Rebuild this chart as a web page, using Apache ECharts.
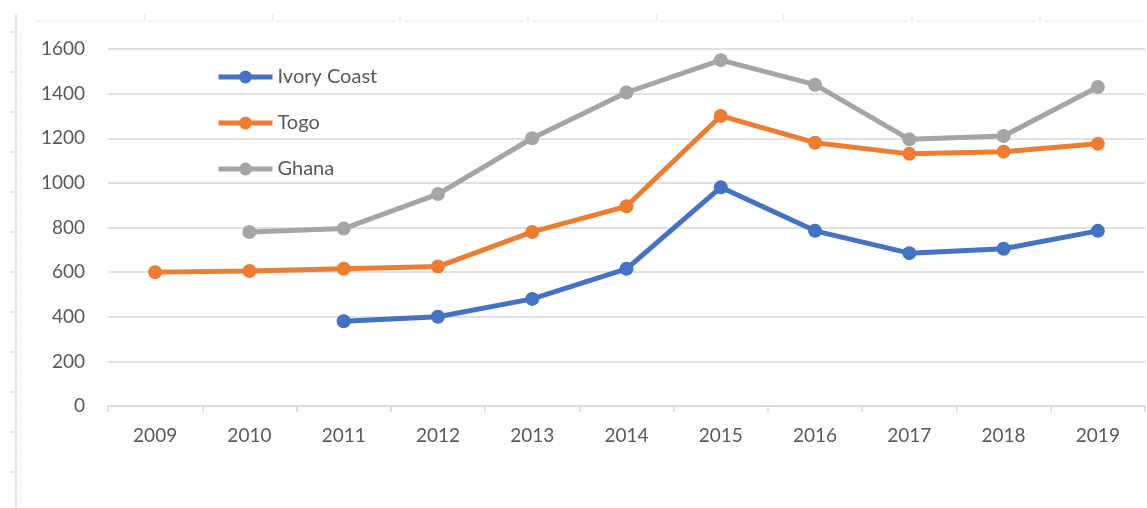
<!DOCTYPE html>
<html>
<head>
<meta charset="utf-8">
<script src="https://cdn.jsdelivr.net/npm/echarts@6/dist/echarts.min.js"></script>
<style>
  html, body { margin: 0; padding: 0; background: #fff; }
  #main { width: 1147px; height: 508px; }
</style>
</head>
<body>
<div id="main"></div>
<script>
var years = ['2009', '2010', '2011', '2012', '2013', '2014', '2015', '2016', '2017', '2018', '2019'];
var ivoryCoast = [null, null, 380, 400, 480, 615, 980, 785, 685, 705, 785];
var togo = [600, 605, 615, 625, 780, 895, 1300, 1180, 1130, 1140, 1175];
var ghana = [null, 780, 795, 950, 1200, 1405, 1550, 1440, 1195, 1210, 1430];

var myChart = echarts.init(document.getElementById('main'));

var labelFont = 'Lato, "Open Sans", sans-serif';
var textColor = '#595959';
var gridColor = '#d9d9d9';

// excel-ish frame bits round the chart area
var deco = [];
deco.push({
    type: 'line', shape: { x1: 16, y1: 14, x2: 16, y2: 508 },
    style: { stroke: '#e2e2e2', lineWidth: 1.5 }, silent: true
});
for (var ty = 32; ty < 508; ty += 40) {
    deco.push({
        type: 'line', shape: { x1: 10, y1: ty, x2: 17, y2: ty },
        style: { stroke: '#e2e2e2', lineWidth: 1.5 }, silent: true
    });
}
deco.push({
    type: 'line', shape: { x1: 21, y1: 32, x2: 21, y2: 508 },
    style: { stroke: '#ececec', lineWidth: 1, lineDash: [8, 3, 2, 3] }, silent: true
});
deco.push({
    type: 'line', shape: { x1: 36, y1: 21, x2: 1145, y2: 21 },
    style: { stroke: '#e6e6e6', lineWidth: 1, lineDash: [8, 3, 2, 3] }, silent: true
});
[145, 273, 400, 528, 657, 783, 912, 1040].forEach(function (tx) {
    deco.push({
        type: 'line', shape: { x1: tx, y1: 14, x2: tx, y2: 21 },
        style: { stroke: '#e2e2e2', lineWidth: 1 }, silent: true
    });
});

function lineSeries(name, data, color) {
    return {
        name: name,
        type: 'line',
        data: data,
        symbol: 'circle',
        symbolSize: 14,
        connectNulls: false,
        itemStyle: { color: color },
        lineStyle: { color: color, width: 5 },
        emphasis: { disabled: true }
    };
}

var option = {
    animation: false,
    backgroundColor: '#fff',
    graphic: deco,
    grid: { left: 108, right: 2, top: 49, bottom: 102 },
    legend: {
        orient: 'vertical',
        left: 211,
        top: 62,
        itemWidth: 54,
        itemHeight: 16,
        itemGap: 26,
        lineStyle: { width: 5 },
        textStyle: { fontFamily: labelFont, fontSize: 20, color: textColor, padding: [0, 0, 0, 0] },
        data: ['Ivory Coast', 'Togo', 'Ghana']
    },
    xAxis: {
        type: 'category',
        data: years,
        boundaryGap: true,
        axisLine: { lineStyle: { color: gridColor, width: 1.5 } },
        axisTick: { show: true, length: 6, lineStyle: { color: gridColor, width: 1.5 } },
        axisLabel: { fontFamily: labelFont, fontSize: 19, color: textColor, margin: 20 },
        splitLine: { show: false }
    },
    yAxis: {
        type: 'value',
        min: 0,
        max: 1600,
        interval: 200,
        axisLine: { show: false },
        axisTick: { show: false },
        axisLabel: {
            fontFamily: labelFont, fontSize: 19, color: textColor, margin: 23,
            formatter: function (v) { return String(v); }
        },
        splitLine: { lineStyle: { color: gridColor, width: 1.5 } }
    },
    series: [
        lineSeries('Ivory Coast', ivoryCoast, '#4472C4'),
        lineSeries('Togo', togo, '#ED7D31'),
        lineSeries('Ghana', ghana, '#A5A5A5')
    ]
};

myChart.setOption(option);
</script>
</body>
</html>
